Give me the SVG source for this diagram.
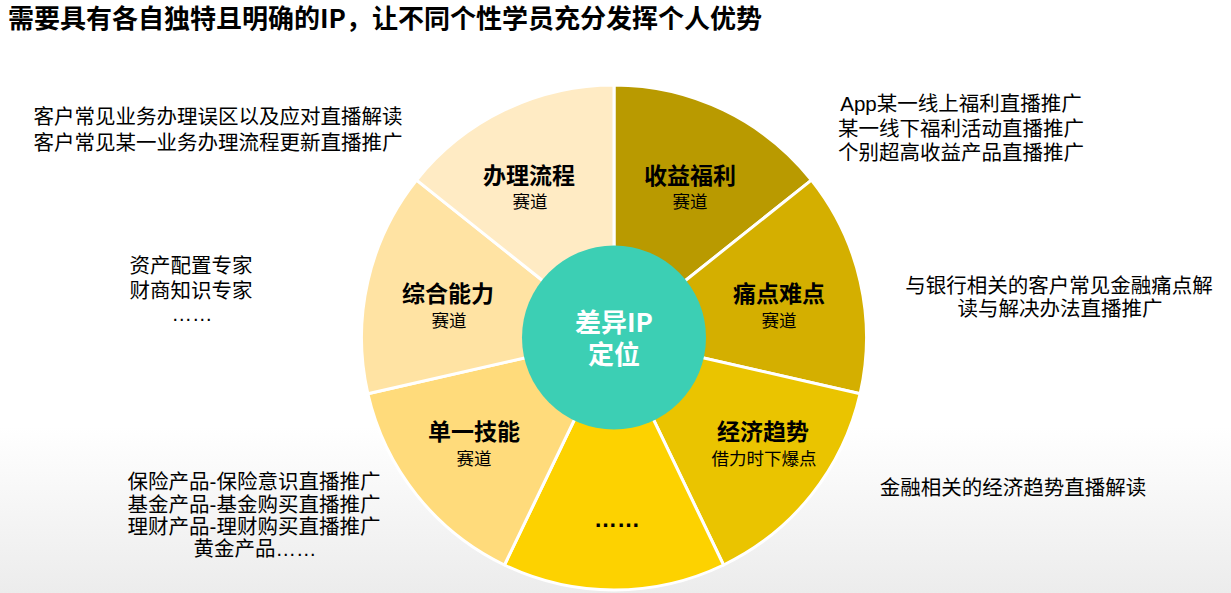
<svg xmlns="http://www.w3.org/2000/svg" width="1231" height="593" viewBox="0 0 1231 593">
  <defs>
    <linearGradient id="bg" x1="0" y1="0" x2="0" y2="1">
      <stop offset="0" stop-color="#FFFFFF"/>
      <stop offset="0.72" stop-color="#FFFFFF"/>
      <stop offset="1" stop-color="#ECECEC"/>
    </linearGradient>
    <style>
      .sec { stroke: #FFFFFF; stroke-width: 3; stroke-linejoin: round; }
      .ttl { font-family: "Noto Sans CJK SC", "Liberation Sans", sans-serif; font-weight: 700; font-size: 23px; fill: #000000; text-anchor: middle; }
      .sub { font-family: "Noto Sans CJK SC", "Liberation Sans", sans-serif; font-size: 17.5px; fill: #000000; text-anchor: middle; }
      .side { font-family: "Liberation Sans", "Noto Sans CJK SC", sans-serif; font-size: 20.5px; fill: #000000; text-anchor: middle; }
      .hub { font-family: "Noto Sans CJK SC", "Liberation Sans", sans-serif; font-weight: 700; font-size: 26px; fill: #FFFFFF; text-anchor: middle; }
      .head { font-family: "Noto Sans CJK SC", "Liberation Sans", sans-serif; font-weight: 700; font-size: 26px; fill: #000000; }
    </style>
  </defs>
  <rect x="0" y="0" width="1231" height="593" fill="url(#bg)"/>

  <text class="head" x="8" y="28">需要具有各自独特且明确的IP，让不同个性学员充分发挥个人优势</text>

  <g id="connectors"/>

  <g id="node-shouyi">
    <path class="sec" fill="#B99A00" d="M614,337.5 L614,85 A252.5,252.5 0 0 1 811.41,180.07 Z"/>
    <text class="ttl" x="690" y="184">收益福利</text>
    <text class="sub" x="690" y="208">赛道</text>
  </g>
  <g id="node-tongdian">
    <path class="sec" fill="#D4AF00" d="M614,337.5 L811.41,180.07 A252.5,252.5 0 0 1 860.17,393.69 Z"/>
    <text class="ttl" x="779" y="302">痛点难点</text>
    <text class="sub" x="779" y="327">赛道</text>
  </g>
  <g id="node-jingji">
    <path class="sec" fill="#EAC400" d="M614,337.5 L860.17,393.69 A252.5,252.5 0 0 1 723.55,565 Z"/>
    <text class="ttl" x="763" y="440">经济趋势</text>
    <text class="sub" x="764" y="465">借力时下爆点</text>
  </g>
  <g id="node-more">
    <path class="sec" fill="#FDD200" d="M614,337.5 L723.55,565 A252.5,252.5 0 0 1 504.45,565 Z"/>
    <text class="ttl" x="617" y="527" style="font-family:'Liberation Sans','Noto Sans CJK SC',sans-serif">……</text>
  </g>
  <g id="node-danyi">
    <path class="sec" fill="#FFDB7B" d="M614,337.5 L504.45,565 A252.5,252.5 0 0 1 367.83,393.69 Z"/>
    <text class="ttl" x="474" y="440">单一技能</text>
    <text class="sub" x="474" y="465">赛道</text>
  </g>
  <g id="node-zonghe">
    <path class="sec" fill="#FFE3A3" d="M614,337.5 L367.83,393.69 A252.5,252.5 0 0 1 416.59,180.07 Z"/>
    <text class="ttl" x="448" y="302">综合能力</text>
    <text class="sub" x="449" y="327">赛道</text>
  </g>
  <g id="node-banli">
    <path class="sec" fill="#FFEBC4" d="M614,337.5 L416.59,180.07 A252.5,252.5 0 0 1 614,85 Z"/>
    <text class="ttl" x="529" y="184">办理流程</text>
    <text class="sub" x="530" y="208">赛道</text>
  </g>

  <g id="node-center">
    <circle cx="614" cy="337.5" r="92" fill="#3CCFB4"/>
    <text class="hub" x="614" y="332">差异IP</text>
    <text class="hub" x="614" y="364">定位</text>
  </g>

  <g id="note-banli">
    <text class="side" x="218" y="124">客户常见业务办理误区以及应对直播解读</text>
    <text class="side" x="218" y="150">客户常见某一业务办理流程更新直播推广</text>
  </g>
  <g id="note-zonghe">
    <text class="side" x="191" y="273">资产配置专家</text>
    <text class="side" x="191" y="298">财商知识专家</text>
    <text class="side" x="192" y="321">……</text>
  </g>
  <g id="note-danyi">
    <text class="side" x="254" y="489">保险产品-保险意识直播推广</text>
    <text class="side" x="254" y="512">基金产品-基金购买直播推广</text>
    <text class="side" x="254" y="534">理财产品-理财购买直播推广</text>
    <text class="side" x="255" y="556">黄金产品……</text>
  </g>
  <g id="note-shouyi">
    <text class="side" x="961" y="111">App某一线上福利直播推广</text>
    <text class="side" x="961" y="135.5">某一线下福利活动直播推广</text>
    <text class="side" x="961" y="160">个别超高收益产品直播推广</text>
  </g>
  <g id="note-tongdian">
    <text class="side" x="1059" y="293">与银行相关的客户常见金融痛点解</text>
    <text class="side" x="1060" y="316">读与解决办法直播推广</text>
  </g>
  <g id="note-jingji">
    <text class="side" x="1013" y="495">金融相关的经济趋势直播解读</text>
  </g>
</svg>
